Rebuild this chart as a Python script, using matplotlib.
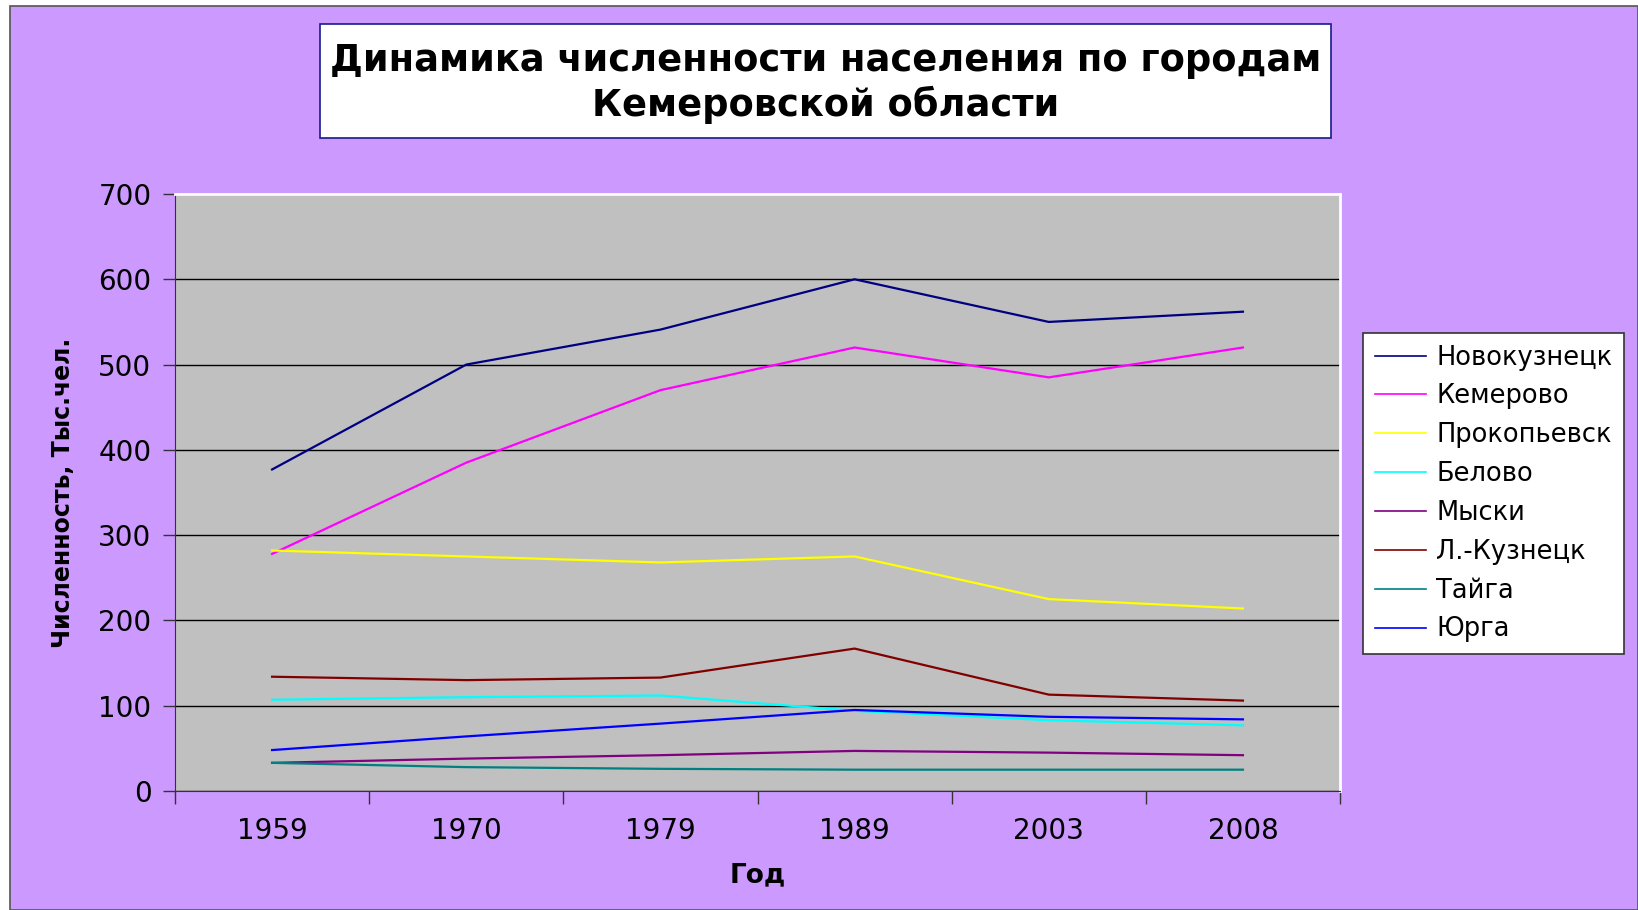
import matplotlib.pyplot as plt
from matplotlib.patches import Rectangle

# Population of Kemerovo region towns, thousand people
years = ["1959", "1970", "1979", "1989", "2003", "2008"]

novokuznetsk = [377, 500, 541, 600, 550, 562]
kemerovo = [278, 385, 470, 520, 485, 520]
prokopyevsk = [282, 275, 268, 275, 225, 214]
belovo = [107, 110, 112, 94, 83, 77]
myski = [33, 38, 42, 47, 45, 42]
lkuznetsk = [134, 130, 133, 167, 113, 106]
taiga = [33, 28, 26, 25, 25, 25]
yurga = [48, 64, 79, 95, 87, 84]

series = [
    ("Новокузнецк", novokuznetsk, "#000080"),
    ("Кемерово", kemerovo, "#FF00FF"),
    ("Прокопьевск", prokopyevsk, "#FFFF00"),
    ("Белово", belovo, "#00FFFF"),
    ("Мыски", myski, "#800080"),
    ("Л.-Кузнецк", lkuznetsk, "#800000"),
    ("Тайга", taiga, "#008080"),
    ("Юрга", yurga, "#0000FF"),
]

W, H = 1638, 910
fig = plt.figure(figsize=(W / 100, H / 100), dpi=100, facecolor="white")

# purple chart area with thin border
fig.patches.append(Rectangle((10 / W, 0), 1 - 10 / W, 1 - 6 / H,
                             transform=fig.transFigure, facecolor="#CC99FF",
                             edgecolor="#555555", linewidth=1.2, zorder=-10))

ax = fig.add_axes([175 / W, 1 - 791 / H, (1340 - 175) / W, (791 - 194) / H])
ax.set_facecolor("#C0C0C0")

x = list(range(len(years)))
for name, vals, col in series:
    ax.plot(x, vals, color=col, linewidth=1.6, label=name)

ax.set_xlim(-0.5, len(years) - 0.5)
ax.set_ylim(0, 700)
ax.set_yticks(range(0, 701, 100))
ax.yaxis.grid(True, color="black", linewidth=1)
ax.set_axisbelow(True)

# ticks between categories, labels at centres (Excel style)
ax.set_xticks([i - 0.5 for i in range(len(years) + 1)])
ax.set_xticklabels([])
ax.set_xticks(x, minor=True)
ax.set_xticklabels(years, minor=True)
ax.tick_params(axis="x", which="major", length=9, width=1, color="#333333")
ax.tick_params(axis="x", which="minor", length=0, pad=19, labelsize=20)
ax.tick_params(axis="y", length=9, width=1, color="#333333", pad=8, labelsize=20)

for side in ["top", "right"]:
    ax.spines[side].set_color("white")
    ax.spines[side].set_linewidth(2)
ax.spines["left"].set_color("#333333")
ax.spines["bottom"].set_color("#333333")

ax.set_xlabel("Год", fontsize=19, fontweight="bold", labelpad=12)
ax.set_ylabel("Численность, Тыс.чел.", fontsize=17, fontweight="bold", labelpad=17)

# title box
fig.patches.append(Rectangle((320 / W, 1 - 138 / H), (1331 - 320) / W, (138 - 24) / H,
                             transform=fig.transFigure, facecolor="white",
                             edgecolor="#1a1a8c", linewidth=1.2, zorder=1))
fig.text((320 + 1331) / 2 / W, 1 - 83 / H,
         "Динамика численности населения по городам\nКемеровской области",
         ha="center", va="center", fontsize=26.5, fontweight="bold",
         linespacing=1.25, zorder=5)

leg = ax.legend(loc="upper left", bbox_to_anchor=(1363 / W, 1 - 333 / H),
                bbox_transform=fig.transFigure, fontsize=18.5, frameon=True,
                fancybox=False, edgecolor="#333333", facecolor="white",
                framealpha=1, handlelength=2.0, labelspacing=0.5,
                borderpad=0.45, handletextpad=0.4, borderaxespad=0)
leg.get_frame().set_linewidth(1.2)
for line in leg.get_lines():
    line.set_linewidth(1.2)

fig.savefig("out.png", dpi=100, facecolor="white")
